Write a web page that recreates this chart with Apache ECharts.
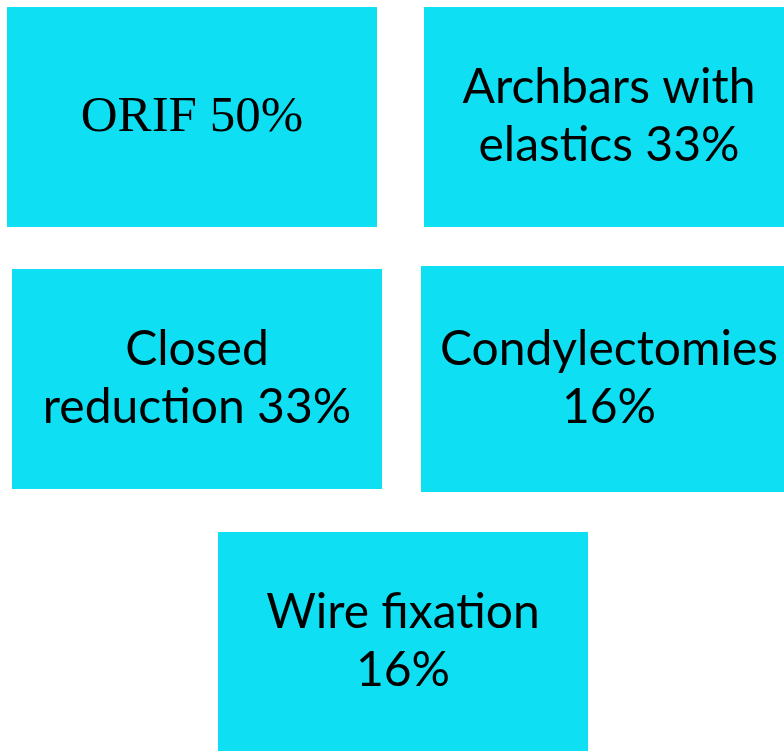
<!DOCTYPE html>
<html>
<head>
<meta charset="utf-8">
<script src="https://cdn.jsdelivr.net/npm/echarts@6/dist/echarts.min.js"></script>
<style>
  html, body { margin: 0; padding: 0; background: #fff; }
  #main { width: 784px; height: 751px; }
</style>
</head>
<body>
<div id="main"></div>
<script>
// categories and their percentages
var names = ['ORIF', 'Archbars with\nelastics', 'Closed\nreduction', 'Condylectomies', 'Wire fixation'];
var percents = [50, 33, 33, 16, 16];
var joiners = [' ', ' ', ' ', '\n', '\n'];

// box layout in page units: x0, y0, x1, y1 (right column runs past the edge)
var boxes = [
  [7, 7, 377, 227],
  [424, 7, 794, 227],
  [12, 269, 382, 489],
  [421, 266, 797, 492],
  [218, 532, 588, 751]
];
var serif = [true, false, false, false, false];

function drawBoxes() {
  var myChart = echarts.init(document.getElementById('main'));

  var data = [];
  for (var i = 0; i < names.length; i++) {
    data.push({
      value: [boxes[i][0], boxes[i][1], boxes[i][2], boxes[i][3], i],
      name: names[i] + joiners[i] + percents[i] + '%'
    });
  }

  var option = {
    animation: false,
    grid: { left: 0, right: 0, top: 0, bottom: 0 },
    xAxis: { type: 'value', min: 0, max: 784, show: false },
    yAxis: { type: 'value', min: 0, max: 751, inverse: true, show: false },
    series: [{
      type: 'custom',
      clip: false,
      data: data,
      renderItem: function (params, api) {
        var p0 = api.coord([api.value(0), api.value(1)]);
        var p1 = api.coord([api.value(2), api.value(3)]);
        var idx = api.value(4);
        var label = data[params.dataIndex].name;
        var isSerif = serif[idx];
        var cx = (p0[0] + p1[0]) / 2;
        var cy = (p0[1] + p1[1]) / 2;
        return {
          type: 'group',
          children: [{
            type: 'rect',
            shape: { x: p0[0], y: p0[1], width: p1[0] - p0[0], height: p1[1] - p0[1] },
            style: { fill: '#0fdff3' }
          }, {
            type: 'text',
            x: cx,
            y: cy + (isSerif ? 1 : 0),
            style: {
              text: label,
              fill: '#000',
              fontFamily: isSerif ? '"Liberation Serif", serif' : 'Lato, sans-serif',
              fontSize: isSerif ? 51 : 48,
              lineHeight: 58,
              align: 'center',
              verticalAlign: 'middle',
              textAlign: 'center',
              textVerticalAlign: 'middle'
            }
          }]
        };
      }
    }]
  };

  myChart.setOption(option);
}
drawBoxes();
</script>
</body>
</html>
